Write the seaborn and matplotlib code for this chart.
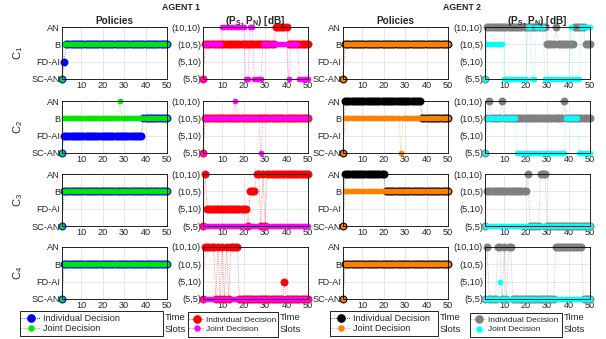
import matplotlib
matplotlib.use("Agg")
import matplotlib.pyplot as plt
from matplotlib.lines import Line2D
from matplotlib.patches import Rectangle
import seaborn as sns

# time axis and category labels
slots = list(range(1, 51))
policy_labels = ['SC-AN', 'FD-AI', 'B', 'AN']
power_labels = ['(5,5)', '(5,10)', '(10,5)', '(10,10)']
case_labels = ['C$_1$', 'C$_2$', 'C$_3$', 'C$_4$']

# decision per time slot = index into the labels above (0 = bottom row)
# one string per case C1..C4, written in groups of 10 slots
a1_pol_ind = ["0122222222 2222222222 2222222222 2222222222 2222222222",
              "0111111111 1111111111 1111111111 1111111122 2222222222",
              "0222222222 2222222222 2222222222 2222222222 2222222222",
              "0222222222 2222222222 2222222222 2222222222 2222222222"]
a1_pol_joint = ["0222222222 2222222222 2222222222 2222222222 2222222222",
                "0222222222 2222222222 2222222322 2222222222 2222222222",
                "0222222222 2222222222 2222222222 2222222222 2222222222",
                "0222222222 2222222222 2222222222 2222222222 2222222222"]
a1_pow_ind = ["0222222222 2222222222 2222222222 2222333333 2222222222",
              "0222222222 2222222222 2222222222 2222222222 2222222222",
              "0311111111 1111111111 1022233030 3333333333 3333333333",
              "0333330303 0303333000 0000000000 0000000010 0000000000"]
a1_pow_joint = ["0222222223 3333333333 0033000022 2222222222 0222200000",
                "0222222222 2222232222 2222222022 2222222222 2222222222",
                "0000000000 0000000000 0000000000 0000000000 0000000000",
                "0000000000 0000000000 0000000000 0000000000 0000000000"]
a2_pol_ind = ["0222222222 2222222222 2222222222 2222222222 2222222222",
              "0333333333 3333333333 3333333333 3333333222 2222222222",
              "0333333333 3333333333 2222222222 2222222222 2222222222",
              "0222222222 2222222222 2222222222 2222222222 2222222222"]
a2_pol_joint = ["0222222222 2222222222 2222222222 2222222222 2222222222",
                "0222222222 2222222222 2222222022 2222222222 2222222222",
                "0222222222 2222222222 2222222222 2222222222 2222222222",
                "0222222222 2222222222 2222222222 2222222222 2222222222"]
a2_pow_ind = ["0333333333 3333333333 3333333332 2223222222 2233333222",
              "0232222232 2222222222 2222222222 2222222322 2222222222",
              "0222222222 2222222222 3000003330 0000000000 0000000000",
              "0300003303 0330000000 0000000000 0003333333 3333330000"]
a2_pow_joint = ["0222222220 0000000000 3300333300 0000000000 3000033333",
                "0222222222 2222200000 0000000000 0000000022 2222000000",
                "0000000000 0000000000 0000000000 0000000000 0000000000",
                "0000000100 0000000000 0000000000 0000000000 0000000000"]

columns = [
    (a1_pol_ind, a1_pol_joint, policy_labels, '#0000ff', '#00e600'),
    (a1_pow_ind, a1_pow_joint, power_labels, '#ff0000', '#ff00ff'),
    (a2_pol_ind, a2_pol_joint, policy_labels, '#000000', '#ff8000'),
    (a2_pow_ind, a2_pow_joint, power_labels, '#808080', '#00ffff'),
]


def decode(s):
    return [int(ch) for ch in s.replace(' ', '')]


sns.set_style('whitegrid', {'grid.color': '#e3e3e3', 'axes.edgecolor': 'black'})
plt.rcParams['font.family'] = ['Liberation Sans', 'DejaVu Sans']
plt.rcParams['mathtext.fontset'] = 'custom'
plt.rcParams['mathtext.rm'] = 'Liberation Sans'
plt.rcParams['mathtext.it'] = 'Liberation Sans'
plt.rcParams['mathtext.bf'] = 'Liberation Sans:bold'

W, H = 606, 339
fig = plt.figure(figsize=(W / 100, H / 100), dpi=100)

col_left = [62, 203, 343, 485]
row_top = [27, 101, 174, 247]
ax_w, ax_h = 105, 52

for c, (ind, joint, ylabels, c_ind, c_joint) in enumerate(columns):
    for r in range(4):
        ax = fig.add_axes([col_left[c] / W, 1 - (row_top[r] + ax_h) / H, ax_w / W, ax_h / H])
        y_ind = decode(ind[r])
        y_joint = decode(joint[r])
        for yv, col, ms in [(y_ind, c_ind, 5.2), (y_joint, c_joint, 3.6)]:
            sns.lineplot(x=slots, y=yv, ax=ax, color=col, linestyle=':', linewidth=0.6,
                         alpha=0.55, clip_on=False)
            sns.lineplot(x=slots, y=yv, ax=ax, color=col, linestyle='', marker='o',
                         markersize=ms, markeredgecolor=col, markeredgewidth=0.5,
                         clip_on=False)
        ax.set_xlim(1, 50)
        ax.set_ylim(0, 3)
        ax.set_xticks([10, 20, 30, 40, 50])
        ax.set_yticks([0, 1, 2, 3])
        ax.set_yticklabels(ylabels)
        ax.tick_params(labelsize=6.6, pad=1.5, length=0)
        ax.grid(True, linewidth=0.6)
        for sp in ax.spines.values():
            sp.set_visible(True)
            sp.set_color('black')
            sp.set_linewidth(0.6)
        if r == 0:
            if c % 2 == 0:
                ax.set_title('Policies', fontsize=7.2, fontweight='bold', pad=2)
            else:
                ax.set_title(r'(P$_{\mathbf{S}}$, P$_{\mathbf{N}}$) [dB]', fontsize=7.2,
                             fontweight='bold', pad=2)

# case labels on the left
for r in range(4):
    fig.text(18 / W, 1 - (row_top[r] + ax_h / 2) / H, case_labels[r], rotation=90,
             ha='center', va='center', fontsize=8)

fig.text(181 / W, 1 - 7 / H, 'AGENT 1', ha='center', va='center', fontsize=6.3, fontweight='bold')
fig.text(462 / W, 1 - 7 / H, 'AGENT 2', ha='center', va='center', fontsize=6.3, fontweight='bold')

# legend boxes (left, top, right, bottom in pixels) and "Time Slots" text
legend_box = [(20, 311, 163, 336), (188, 312, 278, 337),
              (330, 311, 438, 336), (470, 313, 562, 337)]
legend_size = [6.6, 6, 6.6, 6]
handle_len = [2.2, 1.8, 2.2, 1.8]
time_x = [165, 280, 440, 564]
for c, (ind, joint, ylabels, c_ind, c_joint) in enumerate(columns):
    x0, y0, x1, y1 = legend_box[c]
    fig.patches.append(Rectangle((x0 / W, 1 - y1 / H), (x1 - x0) / W, (y1 - y0) / H,
                                 transform=fig.transFigure, fill=False,
                                 edgecolor='black', linewidth=0.6))
    handles = [
        Line2D([], [], color=c_ind, linestyle=':', linewidth=0.6, marker='o',
               markersize=5.2, markeredgecolor=c_ind),
        Line2D([], [], color=c_joint, linestyle=':', linewidth=0.6, marker='o',
               markersize=3.6, markeredgecolor=c_joint),
    ]
    fig.legend(handles, ['Individual Decision', 'Joint Decision'],
               loc='center left', bbox_to_anchor=((x0 + 1) / W, 1 - (y0 + y1) / 2 / H),
               fontsize=legend_size[c], frameon=False, borderpad=0,
               labelspacing=0.15, handlelength=handle_len[c], handletextpad=0.25,
               borderaxespad=0)
    fig.text(time_x[c] / W, 1 - 318 / H, 'Time', ha='left', va='center', fontsize=6.8)
    fig.text(time_x[c] / W, 1 - 330 / H, 'Slots', ha='left', va='center', fontsize=6.8)

fig.savefig('out.png', dpi=100)
